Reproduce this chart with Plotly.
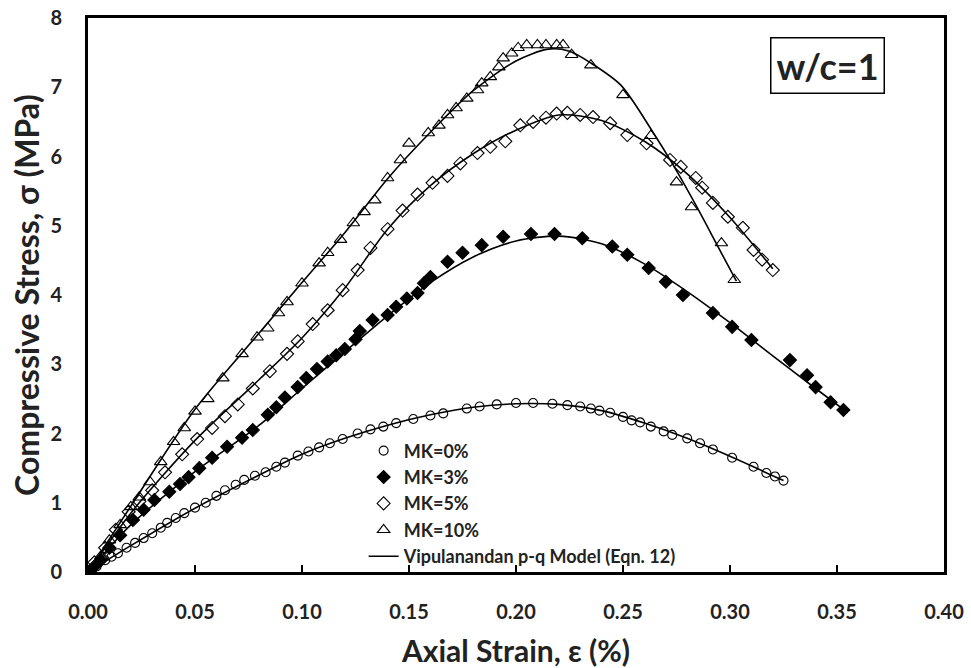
import plotly.graph_objects as go

# ---------------- data ----------------
mk0_strain = [0, 0.004, 0.008, 0.011, 0.014, 0.018, 0.022, 0.026, 0.030, 0.034, 0.037, 0.041,
              0.045, 0.050, 0.055, 0.060, 0.064, 0.069, 0.073, 0.078, 0.083, 0.088, 0.092, 0.098,
              0.103, 0.108, 0.113, 0.119, 0.126, 0.132, 0.138, 0.144, 0.152, 0.160, 0.166, 0.177,
              0.183, 0.191, 0.200, 0.208, 0.217, 0.224, 0.230, 0.235, 0.239, 0.244, 0.250, 0.254,
              0.258, 0.263, 0.269, 0.273, 0.280, 0.286, 0.292, 0.301, 0.311, 0.317, 0.321, 0.325]
mk0_stress = [0, 0.08, 0.17, 0.22, 0.27, 0.35, 0.42, 0.49, 0.56, 0.64, 0.71, 0.78,
              0.85, 0.93, 1.00, 1.10, 1.18, 1.26, 1.33, 1.39, 1.44, 1.52, 1.58, 1.68,
              1.74, 1.80, 1.86, 1.92, 2.00, 2.06, 2.10, 2.15, 2.21, 2.26, 2.29, 2.36,
              2.39, 2.42, 2.44, 2.44, 2.43, 2.41, 2.39, 2.36, 2.33, 2.30, 2.24, 2.19,
              2.16, 2.10, 2.03, 1.98, 1.93, 1.86, 1.77, 1.65, 1.52, 1.43, 1.38, 1.32]

mk3_strain = [0, 0.003, 0.006, 0.010, 0.015, 0.021, 0.026, 0.031, 0.038, 0.043, 0.047, 0.052,
              0.058, 0.065, 0.072, 0.077, 0.084, 0.088, 0.092, 0.098, 0.102, 0.107, 0.112, 0.116,
              0.120, 0.125, 0.127, 0.133, 0.140, 0.144, 0.149, 0.154, 0.157, 0.160, 0.168, 0.175,
              0.184, 0.194, 0.207, 0.218, 0.231, 0.245, 0.252, 0.262, 0.270, 0.278, 0.292, 0.301,
              0.310, 0.328, 0.336, 0.340, 0.347, 0.353]
mk3_stress = [0, 0.08, 0.17, 0.35, 0.53, 0.75, 0.90, 1.04, 1.16, 1.27, 1.37, 1.50,
              1.65, 1.81, 1.94, 2.05, 2.27, 2.38, 2.52, 2.67, 2.80, 2.93, 3.04, 3.13,
              3.22, 3.36, 3.48, 3.64, 3.71, 3.83, 3.95, 4.03, 4.17, 4.26, 4.48, 4.61,
              4.72, 4.84, 4.88, 4.88, 4.82, 4.70, 4.58, 4.39, 4.19, 4.00, 3.74, 3.54,
              3.35, 3.06, 2.84, 2.67, 2.45, 2.34]

mk5_strain = [0, 0.003, 0.008, 0.013, 0.019, 0.024, 0.030, 0.036, 0.044, 0.051, 0.058, 0.064,
              0.070, 0.077, 0.085, 0.093, 0.098, 0.105, 0.112, 0.119, 0.126, 0.132, 0.140, 0.147,
              0.154, 0.161, 0.168, 0.174, 0.182, 0.188, 0.195, 0.202, 0.208, 0.214, 0.219, 0.224,
              0.230, 0.236, 0.244, 0.252, 0.261, 0.272, 0.277, 0.284, 0.287, 0.292, 0.299, 0.306,
              0.311, 0.315, 0.320]
mk5_stress = [0, 0.14, 0.35, 0.61, 0.87, 1.02, 1.18, 1.44, 1.70, 1.92, 2.08, 2.25,
              2.42, 2.65, 2.90, 3.15, 3.33, 3.58, 3.78, 4.07, 4.36, 4.68, 4.95, 5.22,
              5.45, 5.62, 5.72, 5.90, 6.05, 6.14, 6.22, 6.45, 6.50, 6.56, 6.62, 6.63,
              6.60, 6.57, 6.48, 6.31, 6.19, 5.95, 5.85, 5.69, 5.55, 5.33, 5.13, 4.97,
              4.65, 4.51, 4.36]

mk10_strain = [0, 0.001, 0.006, 0.010, 0.015, 0.020, 0.024, 0.029, 0.034, 0.040, 0.045, 0.050,
               0.056, 0.063, 0.072, 0.079, 0.084, 0.089, 0.093, 0.100, 0.108, 0.112, 0.118, 0.124,
               0.129, 0.134, 0.140, 0.146, 0.150, 0.159, 0.164, 0.168, 0.172, 0.177, 0.182, 0.184,
               0.188, 0.192, 0.194, 0.198, 0.201, 0.205, 0.210, 0.214, 0.219, 0.222, 0.226, 0.235,
               0.250, 0.263, 0.275, 0.282, 0.296, 0.302]
mk10_stress = [0, 0.03, 0.23, 0.46, 0.68, 0.94, 1.08, 1.30, 1.59, 1.88, 2.08, 2.32,
               2.50, 2.80, 3.15, 3.39, 3.52, 3.74, 3.90, 4.17, 4.46, 4.61, 4.80, 5.04,
               5.20, 5.37, 5.69, 5.95, 6.19, 6.34, 6.45, 6.60, 6.70, 6.84, 6.96, 7.06,
               7.15, 7.29, 7.42, 7.49, 7.57, 7.61, 7.61, 7.61, 7.61, 7.61, 7.47, 7.32,
               6.89, 6.30, 5.63, 5.27, 4.75, 4.22]

# Vipulanandan p-q model curves
mod0_strain = [0, 0.02, 0.05, 0.08, 0.10, 0.12, 0.14, 0.16, 0.18, 0.20, 0.22, 0.24, 0.26, 0.28, 0.30, 0.325]
mod0_stress = [0, 0.38, 0.92, 1.40, 1.70, 1.93, 2.12, 2.27, 2.38, 2.43, 2.42, 2.33, 2.15, 1.93, 1.67, 1.32]

mod3_strain = [0, 0.02, 0.05, 0.08, 0.10, 0.12, 0.14, 0.16, 0.18, 0.20, 0.22, 0.24, 0.26, 0.28, 0.30, 0.32, 0.34, 0.355]
mod3_stress = [0, 0.68, 1.45, 2.12, 2.65, 3.18, 3.70, 4.18, 4.55, 4.78, 4.85, 4.74, 4.45, 4.05, 3.60, 3.12, 2.65, 2.30]

mod5_strain = [0, 0.02, 0.05, 0.08, 0.10, 0.12, 0.14, 0.16, 0.18, 0.20, 0.22, 0.24, 0.26, 0.28, 0.30, 0.32]
mod5_stress = [0, 0.85, 1.90, 2.78, 3.38, 4.10, 4.95, 5.58, 6.04, 6.38, 6.60, 6.52, 6.22, 5.75, 5.12, 4.38]

mod10_strain = [0, 0.02, 0.05, 0.08, 0.10, 0.12, 0.14, 0.16, 0.18, 0.20, 0.215, 0.225, 0.235, 0.249, 0.264, 0.273, 0.284, 0.294, 0.303]
mod10_stress = [0, 0.95, 2.35, 3.45, 4.18, 4.90, 5.68, 6.35, 6.95, 7.38, 7.55, 7.52, 7.35, 7.03, 6.35, 5.90, 5.30, 4.72, 4.20]

x_ticks = [0.00, 0.05, 0.10, 0.15, 0.20, 0.25, 0.30, 0.35, 0.40]
x_tick_labels = ["0.00", "0.05", "0.10", "0.15", "0.20", "0.25", "0.30", "0.35", "0.40"]
y_ticks = [0, 1, 2, 3, 4, 5, 6, 7, 8]

series = [
    ("MK=0%", mk0_strain, mk0_stress, "circle-open", 9),
    ("MK=3%", mk3_strain, mk3_stress, "diamond", 10),
    ("MK=5%", mk5_strain, mk5_stress, "diamond-open", 10),
    ("MK=10%", mk10_strain, mk10_stress, "triangle-up-open", 11),
]
models = [(mod0_strain, mod0_stress), (mod3_strain, mod3_stress),
          (mod5_strain, mod5_stress), (mod10_strain, mod10_stress)]

FONT = "Lato"
fig = go.Figure()

for i, (xs, ys) in enumerate(models):
    fig.add_trace(go.Scatter(
        x=xs, y=ys, mode="lines", line=dict(color="black", width=1.6, shape="spline", smoothing=0.8),
        name="Vipulanandan p-q Model (Eqn. 12)", legendgroup="model", legendrank=1000,
        showlegend=(i == 0), hoverinfo="skip"))

for k, (name, xs, ys, sym, size) in enumerate(series):
    fig.add_trace(go.Scatter(
        x=xs, y=ys, mode="markers", name=name, legendgroup=name, legendrank=k + 1,
        marker=dict(symbol=sym, size=size, color="black", line=dict(color="black", width=1.1))))

fig.update_layout(
    width=971, height=668,
    margin=dict(l=88, r=27, t=18, b=96),
    paper_bgcolor="white", plot_bgcolor="white",
    font=dict(family=FONT, color="#1a1a1a"),
    showlegend=True,
    legend=dict(x=0.322, y=0.252, xanchor="left", yanchor="top",
                bgcolor="rgba(0,0,0,0)", borderwidth=0,
                traceorder="grouped", tracegroupgap=0,
                font=dict(family=FONT, size=18, color="#222", weight="bold"),
                itemsizing="trace"),
    xaxis=dict(range=[0, 0.40], tickvals=x_ticks, ticktext=x_tick_labels,
               ticks="inside", ticklen=7, tickwidth=1.5, tickcolor="black",
               showline=True, linewidth=3, linecolor="black", mirror=True,
               showgrid=False, zeroline=False, ticklabelstandoff=20, automargin=False,
               ticklabeloverflow="allow",
               tickfont=dict(family=FONT, size=20, color="#222", weight="bold"),
               title=dict(text="Axial Strain, ε (%)", standoff=22,
                          font=dict(family=FONT, size=30, color="#222", weight="bold"))),
    yaxis=dict(range=[0, 8], tickvals=y_ticks, ticks="",
               showline=True, linewidth=3, linecolor="black", mirror=True,
               showgrid=False, zeroline=False, ticklabelstandoff=19, automargin=False,
               ticklabeloverflow="allow",
               tickfont=dict(family=FONT, size=20, color="#222", weight="bold"),
               title=dict(text="Compressive Stress, σ (MPa)", standoff=2,
                          font=dict(family=FONT, size=32, color="#222", weight="bold"))),
    annotations=[dict(text="w/c=1", x=0.864, y=0.915, xref="paper", yref="paper",
                      xanchor="center", yanchor="middle",
                      showarrow=False, font=dict(family=FONT, size=36, color="#222", weight="bold"),
                      bordercolor="black", borderwidth=1.5, borderpad=5, bgcolor="white")],
)

fig.write_html("out.html", config={"displayModeBar": False},
               post_script="document.body.style.margin='0px';")
